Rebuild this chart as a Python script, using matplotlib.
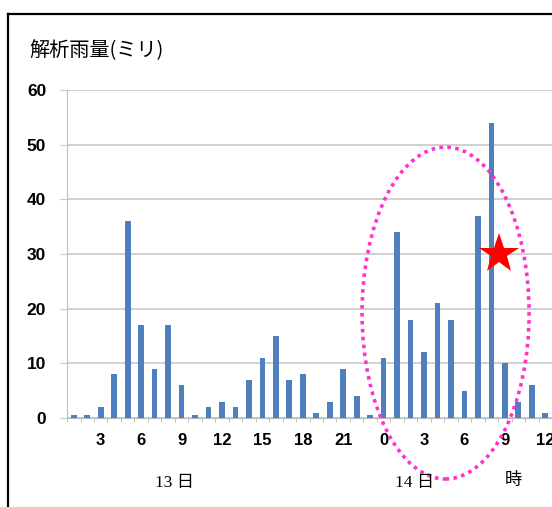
import matplotlib.pyplot as plt
from matplotlib.lines import Line2D
from matplotlib.patches import Ellipse

# hourly analysed rainfall, 13th 01:00 through 14th 12:00
hours = list(range(1, 37))
rain_mm = [
    0.5, 0.5, 2, 8, 36, 17, 9, 17, 6, 0.5, 2, 3,
    2, 7, 11, 15, 7, 8, 1, 3, 9, 4, 0.5,
    11, 34, 18, 12, 21, 18, 5, 37, 54, 10, 3, 6, 1,
]
tick_hours = [3, 6, 9, 12, 15, 18, 21, 24, 27, 30, 33, 36]
tick_labels = ['3', '6', '9', '12', '15', '18', '21', '0', '3', '6', '9', '12']
peak_hour, peak_mark = 32, 30

fig = plt.figure(figsize=(5.52, 5.07), dpi=100)
ax = fig.add_axes([0.1215, 0.1755, 0.8785, 0.647])

ax.bar(hours, rain_mm, width=0.42, color='#4f7fbc', zorder=3)
ax.set_xlim(0.5, 36.5)
ax.set_ylim(0, 60)

ax.set_yticks(range(0, 61, 10))
ax.set_yticklabels([str(v) for v in range(0, 61, 10)],
                   fontweight='bold', fontsize=12.5, family='Liberation Sans')
ax.grid(axis='y', color='#c8c8c8', linewidth=1.2, zorder=0)
ax.tick_params(axis='y', length=5, color='#c8c8c8', pad=10)

ax.set_xticks(tick_hours)
ax.set_xticklabels(tick_labels, fontweight='bold', fontsize=12,
                   family='Liberation Sans')
ax.set_xticks([h + 0.5 for h in range(0, 37)], minor=True)
ax.tick_params(axis='x', which='major', length=0, pad=11)
ax.tick_params(axis='x', which='minor', length=3, color='#b8b8b8')

for side in ('top', 'right'):
    ax.spines[side].set_visible(False)
ax.spines['left'].set_color('#c0c0c0')
ax.spines['bottom'].set_color('#b8b8b8')

# highlight of the 14th morning burst
ax.add_patch(Ellipse((28.6, 19.2), width=12.4, height=60.7,
                     fill=False, edgecolor='#ff33cc', linewidth=2.6,
                     linestyle=(0, (1, 1.2)), clip_on=False, zorder=5))
ax.plot([peak_hour + 0.55], [peak_mark], marker='*', color='red',
        markersize=30, markeredgewidth=0, clip_on=False, zorder=6)

fig.text(0.053, 0.9, '解析雨量(ミリ)', fontsize=14.5,
         family=['Noto Sans CJK JP'], va='center', ha='left')

day_font = ['Liberation Serif', 'Noto Sans CJK JP']
fig.text(0.316, 0.047, '13 日', fontsize=12.5, family=day_font,
         ha='center', va='center')
fig.text(0.752, 0.047, '14 日', fontsize=12.5, family=day_font,
         ha='center', va='center')
fig.text(0.93, 0.052, '時', fontsize=12.5, family=day_font,
         ha='center', va='center')

# outer frame, running off the right and bottom edges
fig.add_artist(Line2D([0.0145, 1.0], [0.972, 0.972], color='black',
                      linewidth=1.6, transform=fig.transFigure))
fig.add_artist(Line2D([0.0145, 0.0145], [0.0, 0.972], color='black',
                      linewidth=1.6, transform=fig.transFigure))

fig.savefig('out.png', dpi=100)
